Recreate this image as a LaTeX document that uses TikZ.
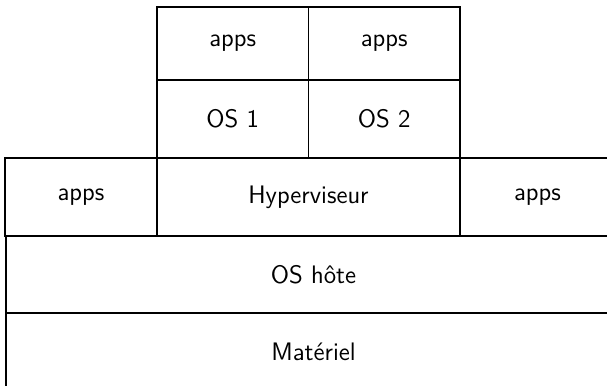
\documentclass[tikz,border=0pt]{standalone}
\begin{document}
\begin{tikzpicture}[semithick, layer/.style={rectangle,draw,minimum height=1.56cm,inner sep=0pt,font=\sffamily\Large}]
\useasboundingbox (0,0) rectangle (12.14,-7.72);
\clip (0,0) rectangle (12.14,-7.72);
% VMs
\node[layer,minimum width=3.03cm,minimum height=1.46cm] (apps1) at (4.655,-0.87) {apps};
\node[layer,minimum width=3.03cm,minimum height=1.46cm] (apps2) at (7.685,-0.87) {apps};
\node[layer,minimum width=3.03cm] (os1) at (4.655,-2.38) {OS 1};
\node[layer,minimum width=3.03cm] (os2) at (7.685,-2.38) {OS 2};
% hote
\node[layer,minimum width=3.04cm] (appsg) at (1.62,-3.94) {apps};
\node[layer,minimum width=6.06cm] (hyper) at (6.17,-3.94) {Hyperviseur};
\node[layer,minimum width=3.1cm] (appsd) at (10.75,-3.94) {apps};
\node[layer,minimum width=12.3cm,minimum height=1.54cm] (oshote) at (6.27,-5.49) {OS h\^ote};
\node[layer,minimum width=12.3cm,minimum height=1.54cm] (materiel) at (6.27,-7.03) {Mat\'eriel};
%\node[layer] (x) at (,) {};
\end{tikzpicture}
\end{document}
